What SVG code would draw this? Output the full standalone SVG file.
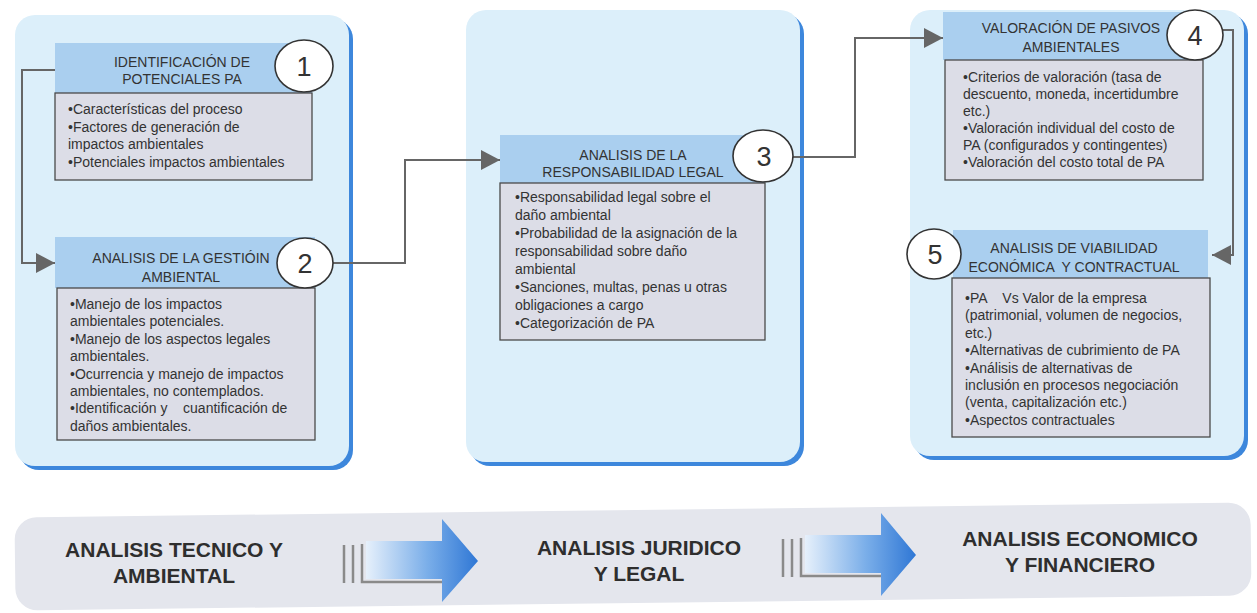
<svg xmlns="http://www.w3.org/2000/svg" width="1257" height="613" viewBox="0 0 1257 613">
<style>
.bg{fill:#ffffff}
.shadow{fill:#3d87dc}
.panel{fill:#dceffa}
.hdr{fill:#aacfef}
.body{fill:#dcdde7;stroke:#4a4a4a;stroke-width:1.3}
.circ{fill:#ffffff;stroke:#333;stroke-width:1.6}
.num{font-family:"Liberation Sans",Arial,sans-serif;font-size:27px;fill:#333;text-anchor:middle}
.ht{font-family:"Liberation Sans",Arial,sans-serif;font-size:14px;fill:#333;text-anchor:middle;white-space:pre}
.bt{font-family:"Liberation Sans",Arial,sans-serif;font-size:14px;fill:#333;white-space:pre}
.conn{fill:none;stroke:#666;stroke-width:2}
.bar{fill:#e4e6ed}
.bigt{font-family:"Liberation Sans",Arial,sans-serif;font-size:21px;font-weight:bold;fill:#2e2e2e;text-anchor:middle}
.gl{fill:none;stroke:#8a8a8a;stroke-width:2.5}
</style>
<defs>
<marker id="ah" markerUnits="userSpaceOnUse" markerWidth="20" markerHeight="22" refX="19" refY="10" orient="auto">
<path d="M0,0 L19,10 L0,20 Z" fill="#666"/>
</marker>
<linearGradient id="ag" x1="0" y1="0" x2="1" y2="0">
<stop offset="0" stop-color="#e6f0fb"/>
<stop offset="0.55" stop-color="#7aaee9"/>
<stop offset="1" stop-color="#2f77d5"/>
</linearGradient>
</defs>
<rect class="bg" x="0" y="0" width="1257" height="613"/>

<!-- panels -->
<g id="panel-left">
<rect class="shadow" x="19" y="19" width="334" height="451" rx="20"/>
<rect class="panel" x="15" y="15" width="334" height="451" rx="20"/>
</g>
<g id="panel-middle">
<rect class="shadow" x="470" y="14" width="334" height="452" rx="20"/>
<rect class="panel" x="466" y="10" width="334" height="452" rx="20"/>
</g>
<g id="panel-right">
<rect class="shadow" x="914" y="14" width="334" height="446" rx="20"/>
<rect class="panel" x="910" y="10" width="334" height="446" rx="20"/>
</g>

<!-- connectors -->
<g id="connectors">
<path class="conn" d="M55,70 H22 V263 H55" marker-end="url(#ah)"/>
<path class="conn" d="M333,263 H405 V160 H500" marker-end="url(#ah)"/>
<path class="conn" d="M792,157 H855 V38 H943" marker-end="url(#ah)"/>
<path class="conn" d="M1222,30 H1233 V255 H1212" marker-end="url(#ah)"/>
</g>

<!-- node 1 -->
<g id="node1">
<rect class="hdr" x="55" y="43" width="257" height="50"/>
<rect class="body" x="55" y="93" width="257" height="87"/>
<text class="ht" x="182" y="67">IDENTIFICACIÓN DE</text>
<text class="ht" x="182" y="84">POTENCIALES PA</text>
<text class="bt" x="68" y="114">•Características del proceso</text>
<text class="bt" x="68" y="131.5">•Factores de generación de</text>
<text class="bt" x="68" y="149">impactos ambientales</text>
<text class="bt" x="68" y="166.5">•Potenciales impactos ambientales</text>
<ellipse class="circ" cx="304" cy="66" rx="29" ry="26"/>
<text class="num" x="304" y="76">1</text>
</g>

<!-- node 2 -->
<g id="node2">
<rect class="hdr" x="55" y="237" width="260" height="51"/>
<rect class="body" x="57" y="288" width="258" height="152"/>
<text class="ht" x="181" y="263">ANALISIS DE LA GESTIÓIN</text>
<text class="ht" x="181" y="282">AMBIENTAL</text>
<text class="bt" x="70" y="309">•Manejo de los impactos</text>
<text class="bt" x="70" y="326.4">ambientales potenciales.</text>
<text class="bt" x="70" y="343.8">•Manejo de los aspectos legales</text>
<text class="bt" x="70" y="361.2">ambientales.</text>
<text class="bt" x="70" y="378.6">•Ocurrencia y manejo de impactos</text>
<text class="bt" x="70" y="396">ambientales, no contemplados.</text>
<text class="bt" x="70" y="413.4">•Identificación y    cuantificación de</text>
<text class="bt" x="70" y="430.8">daños ambientales.</text>
<ellipse class="circ" cx="305" cy="263" rx="28" ry="25"/>
<text class="num" x="305" y="273">2</text>
</g>

<!-- node 3 -->
<g id="node3">
<rect class="hdr" x="500" y="135" width="265" height="48"/>
<rect class="body" x="500" y="183" width="265" height="157"/>
<text class="ht" x="633" y="160">ANALISIS DE LA</text>
<text class="ht" x="633" y="177">RESPONSABILIDAD LEGAL</text>
<text class="bt" x="515" y="202">•Responsabilidad legal sobre el</text>
<text class="bt" x="515" y="220">daño ambiental</text>
<text class="bt" x="515" y="238">•Probabilidad de la asignación de la</text>
<text class="bt" x="515" y="256">responsabilidad sobre daño</text>
<text class="bt" x="515" y="274">ambiental</text>
<text class="bt" x="515" y="292">•Sanciones, multas, penas u otras</text>
<text class="bt" x="515" y="310">obligaciones a cargo</text>
<text class="bt" x="515" y="328">•Categorización de PA</text>
<ellipse class="circ" cx="763" cy="156" rx="30" ry="26"/>
<text class="num" x="764" y="166">3</text>
</g>

<!-- node 4 -->
<g id="node4">
<rect class="hdr" x="943" y="12" width="262" height="48"/>
<rect class="body" x="945" y="60" width="258" height="120"/>
<text class="ht" x="1071" y="33">VALORACIÓN DE PASIVOS</text>
<text class="ht" x="1071" y="52">AMBIENTALES</text>
<text class="bt" x="963" y="82">•Criterios de valoración (tasa de</text>
<text class="bt" x="963" y="99">descuento, moneda, incertidumbre</text>
<text class="bt" x="963" y="116">etc.)</text>
<text class="bt" x="963" y="133">•Valoración individual del costo de</text>
<text class="bt" x="963" y="150">PA (configurados y contingentes)</text>
<text class="bt" x="963" y="167">•Valoración del costo total de PA</text>
<ellipse class="circ" cx="1195" cy="35" rx="28" ry="25"/>
<text class="num" x="1195" y="45">4</text>
</g>

<!-- node 5 -->
<g id="node5">
<rect class="hdr" x="953" y="230" width="255" height="48"/>
<rect class="body" x="952" y="278" width="258" height="159"/>
<text class="ht" x="1074" y="253">ANALISIS DE VIABILIDAD</text>
<text class="ht" x="1074" y="272">ECONÓMICA  Y CONTRACTUAL</text>
<text class="bt" x="965" y="303">•PA    Vs Valor de la empresa</text>
<text class="bt" x="965" y="320.4">(patrimonial, volumen de negocios,</text>
<text class="bt" x="965" y="337.8">etc.)</text>
<text class="bt" x="965" y="355.2">•Alternativas de cubrimiento de PA</text>
<text class="bt" x="965" y="372.6">•Análisis de alternativas de</text>
<text class="bt" x="965" y="390">inclusión en procesos negociación</text>
<text class="bt" x="965" y="407.4">(venta, capitalización etc.)</text>
<text class="bt" x="965" y="424.8">•Aspectos contractuales</text>
<ellipse class="circ" cx="934" cy="254" rx="27" ry="25"/>
<text class="num" x="935" y="264">5</text>
</g>

<!-- bottom bar -->
<g id="phase-bar">
<rect class="bar" x="15" y="510" width="1236" height="93" rx="22" transform="rotate(-0.7 633 557)"/>
</g>
<g id="phase1">
<text class="bigt" x="174" y="557">ANALISIS TECNICO Y</text>
<text class="bigt" x="174" y="583">AMBIENTAL</text>
</g>
<g id="arrow1">
<path class="gl" d="M344,545 V583"/>
<path class="gl" d="M353,545 V583"/>
<path class="gl" d="M362,544 V582 H442"/>
<path d="M366,541 H442 V519 L478,561 L442,602 V579 H366 Z" fill="url(#ag)"/>
</g>
<g id="phase2">
<text class="bigt" x="639" y="555">ANALISIS JURIDICO</text>
<text class="bigt" x="639" y="581">Y LEGAL</text>
</g>
<g id="arrow2">
<path class="gl" d="M783,539 V577"/>
<path class="gl" d="M792,539 V577"/>
<path class="gl" d="M801,538 V576 H881"/>
<path d="M805,535 H881 V513 L916,555 L881,596 V573 H805 Z" fill="url(#ag)"/>
</g>
<g id="phase3">
<text class="bigt" x="1080" y="546">ANALISIS ECONOMICO</text>
<text class="bigt" x="1080" y="572">Y FINANCIERO</text>
</g>
</svg>
